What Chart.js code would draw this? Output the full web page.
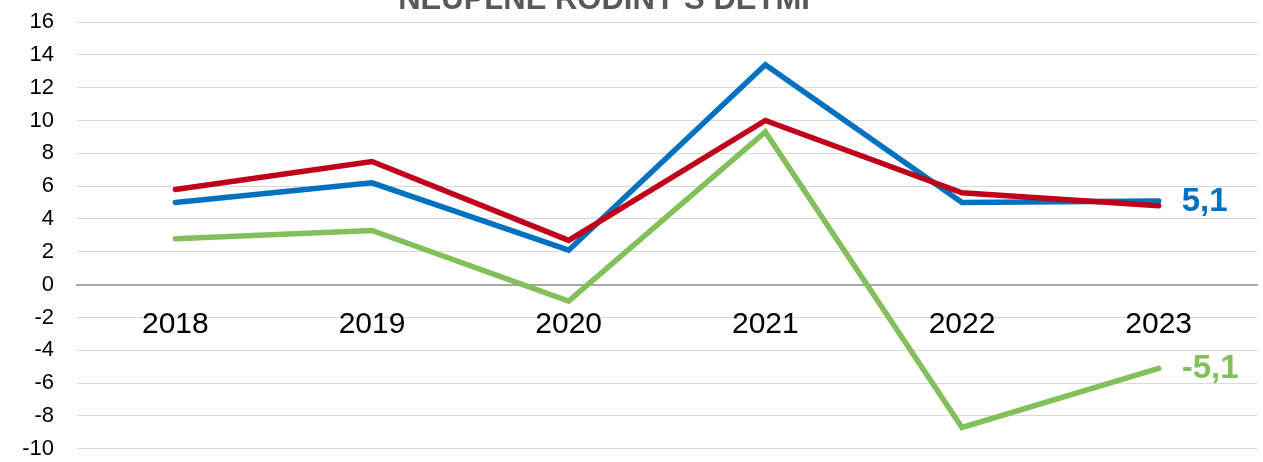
<!DOCTYPE html>
<html>
<head>
<meta charset="utf-8">
<script src="https://cdn.jsdelivr.net/npm/chart.js@4/dist/chart.umd.min.js"></script>
<style>
  html, body { margin: 0; padding: 0; background: #fff; }
  #wrap { width: 1263px; height: 462px; }
</style>
</head>
<body>
<div id="wrap"><canvas id="chart" width="1263" height="462"></canvas></div>
<script>
const years = ['2018', '2019', '2020', '2021', '2022', '2023'];
const redValues = [5.8, 7.5, 2.7, 10.0, 5.6, 4.8];
const blueValues = [5.0, 6.2, 2.1, 13.4, 5.0, 5.1];
const greenValues = [2.8, 3.3, -1.0, 9.3, -8.7, -5.1];
const yTicks = { min: -10, max: 16, step: 2 };
const chartTitle = 'NEÚPLNÉ RODINY S DEŤMI';

const FONT = "'Liberation Sans', Arial, sans-serif";

// title sits partly above the canvas edge, like in the source picture
const titlePlugin = {
  id: 'cutTitle',
  afterDraw(chart) {
    const ctx = chart.ctx;
    ctx.save();
    ctx.font = 'bold 31px ' + FONT;
    ctx.fillStyle = '#595959';
    ctx.textAlign = 'center';
    ctx.textBaseline = 'alphabetic';
    ctx.fillText(chartTitle, 604, 9);
    ctx.restore();
  }
};

// value label next to the last point of a series
const endLabelPlugin = {
  id: 'endLabels',
  afterDatasetsDraw(chart) {
    const ctx = chart.ctx;
    chart.data.datasets.forEach((ds, i) => {
      if (!ds.endLabel) return;
      const meta = chart.getDatasetMeta(i);
      const last = meta.data[meta.data.length - 1];
      const v = ds.data[ds.data.length - 1];
      ctx.save();
      ctx.font = 'bold 33px ' + FONT;
      ctx.fillStyle = ds.borderColor;
      ctx.textAlign = 'left';
      ctx.textBaseline = 'middle';
      ctx.fillText(v.toFixed(1).replace('.', ','), last.x + 23, last.y + 1);
      ctx.restore();
    });
  }
};

function line(data, color, endLabel) {
  return {
    data: data,
    borderColor: color,
    backgroundColor: color,
    borderWidth: 5.5,
    borderCapStyle: 'round',
    borderJoinStyle: 'miter',
    tension: 0,
    pointRadius: 0,
    fill: false,
    endLabel: endLabel
  };
}

new Chart(document.getElementById('chart'), {
  type: 'line',
  data: {
    labels: years,
    datasets: [
      line(redValues, '#c0001a', false),
      line(blueValues, '#0070c0', true),
      line(greenValues, '#82c05c', true)
    ]
  },
  options: {
    responsive: false,
    animation: false,
    layout: { padding: { top: 22, bottom: 12, right: 6, left: 0 } },
    plugins: {
      legend: { display: false },
      tooltip: { enabled: false },
      title: { display: false }
    },
    scales: {
      x: {
        type: 'category',
        position: { y: 0 },
        offset: true,
        afterFit(scale) { scale.height = 0; },
        grid: { display: false, drawTicks: false },
        border: { display: true, color: '#a6a6a6', width: 2 },
        ticks: {
          color: '#000',
          font: { family: FONT, size: 30 },
          padding: 22,
          maxRotation: 0
        }
      },
      y: {
        min: yTicks.min,
        max: yTicks.max,
        afterFit(scale) { scale.width = 77; },
        // invisible tick marks keep labels away from the plot without extra vertical padding
        grid: { color: '#d9d9d9', lineWidth: 1, drawTicks: true, tickLength: 23, tickColor: 'rgba(0,0,0,0)' },
        border: { display: false },
        ticks: {
          stepSize: yTicks.step,
          color: '#000',
          font: { family: FONT, size: 22 },
          padding: 0
        }
      }
    }
  },
  plugins: [titlePlugin, endLabelPlugin]
});
</script>
</body>
</html>
